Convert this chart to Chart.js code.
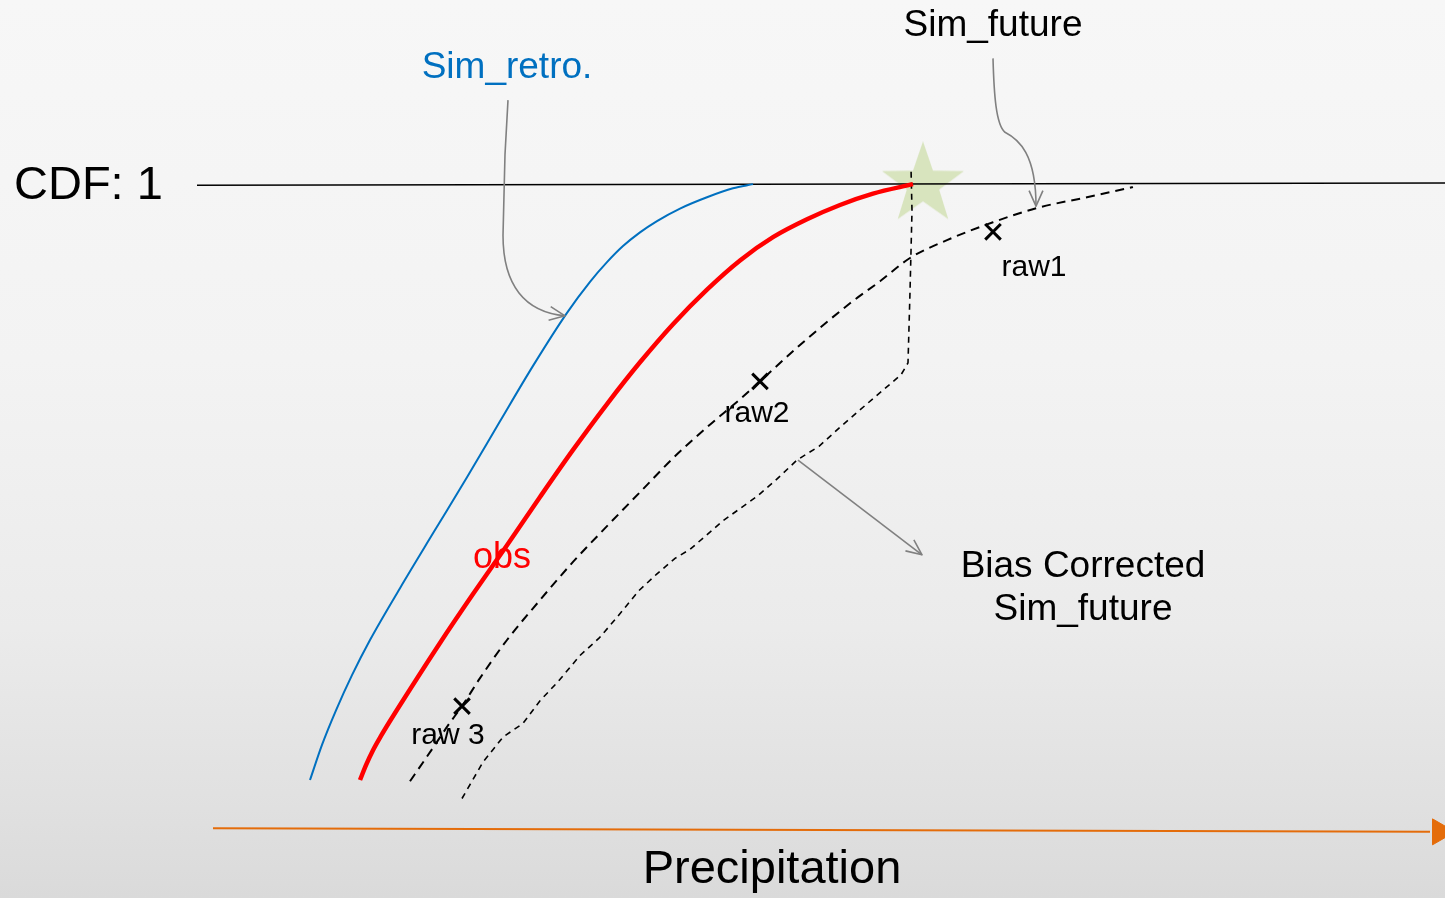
<!DOCTYPE html>
<html>
<head>
<meta charset="utf-8">
<script src="https://cdn.jsdelivr.net/npm/chart.js@4"></script>
<style>
  html, body { margin: 0; padding: 0; overflow: hidden; }
  body {
    width: 1445px; height: 898px;
    background: linear-gradient(to bottom, #f7f7f7 0%, #f3f3f3 40%, #ebebeb 70%, #e0e0e0 90%, #dadada 100%);
  }
  #wrap { position: absolute; left: 0; top: 0; width: 1445px; height: 898px; }
</style>
</head>
<body>
<div id="wrap"><canvas id="canvas" width="1445" height="898"></canvas></div>
<script>
// precipitation (x) and CDF (y)
var retroX = [9.7, 10.9, 12.3, 13.9, 15.7, 18.7, 22.0, 25.4, 28.7, 32.0, 35.4, 37.7, 39.4, 41.0, 42.7, 44.4, 46.7, 49.4, 52.0, 54.0];
var retroY = [0.000, 0.059, 0.117, 0.176, 0.235, 0.322, 0.414, 0.508, 0.602, 0.695, 0.784, 0.836, 0.869, 0.896, 0.919, 0.938, 0.959, 0.978, 0.993, 1.000];

var obsX = [14.7, 15.3, 16.0, 16.8, 17.7, 19.2, 22.7, 26.0, 29.4, 32.7, 36.0, 39.4, 42.7, 46.0, 49.4, 52.7, 56.0, 59.4, 62.7, 66.0, 70.0];
var obsY = [0.000, 0.025, 0.050, 0.074, 0.099, 0.139, 0.230, 0.312, 0.394, 0.475, 0.554, 0.631, 0.701, 0.765, 0.823, 0.872, 0.911, 0.941, 0.965, 0.984, 1.000];

var futureX = [19.7, 21.1, 22.4, 23.6, 24.9, 26.7, 29.4, 32.7, 36.0, 39.4, 42.7, 46.0, 49.4, 52.7, 54.7, 58.7, 63.7, 66.7, 69.7, 73.4, 78.0, 82.4, 87.4, 92.0];
var futureY = [-0.002, 0.032, 0.064, 0.094, 0.124, 0.171, 0.235, 0.302, 0.366, 0.426, 0.483, 0.540, 0.592, 0.639, 0.669, 0.730, 0.800, 0.837, 0.876, 0.906, 0.936, 0.960, 0.978, 0.995];

var correctedX = [24.9, 27.0, 29.0, 31.0, 32.7, 34.5, 36.7, 38.6, 40.4, 42.6, 44.4, 46.2, 47.7, 51.0, 54.4, 56.2, 58.4, 60.6, 62.7, 66.0, 68.8, 69.5, 69.7, 69.9, 69.8];
var correctedY = [-0.031, 0.030, 0.072, 0.095, 0.133, 0.165, 0.209, 0.238, 0.273, 0.318, 0.346, 0.372, 0.387, 0.435, 0.476, 0.502, 0.537, 0.560, 0.592, 0.640, 0.680, 0.700, 0.819, 0.955, 1.027];

var rawLabels = ['raw1', 'raw2', 'raw 3'];
var rawX = [78.0, 54.7, 24.9];
var rawY = [0.920, 0.669, 0.124];

var matchX = [71.0];
var matchY = [1.003];

var cdfLineX = [-1.6, 123.2];
var cdfLineY = [0.998, 1.002];

var axisX = [0.0, 121.7];
var axisY = [-0.081, -0.087];

function pts(xs, ys) {
    return xs.map(function (x, i) { return {x: x, y: ys[i]}; });
}

// filled star used as the point style of the matching point
var starImg = document.createElement('canvas');
starImg.width = 90;
starImg.height = 90;
(function () {
    var c = starImg.getContext('2d');
    c.beginPath();
    for (var i = 0; i < 10; i++) {
        var r = i % 2 === 0 ? 43 : 17;
        var a = -Math.PI / 2 + i * Math.PI / 5;
        var px = 45 + r * Math.cos(a), py = 47 + r * Math.sin(a);
        if (i === 0) c.moveTo(px, py); else c.lineTo(px, py);
    }
    c.closePath();
    c.fillStyle = 'rgba(210,224,180,0.85)';
    c.fill();
})();

var font = '"Liberation Sans", Arial, sans-serif';

// arrows and labels, placed in data units
var notes = [
    {text: 'Sim_retro.', x: 29.4, y: 1.195, size: 37, color: '#0070C0'},
    {text: 'Sim_future', x: 78.0, y: 1.265, size: 37, color: '#000'},
    {text: 'obs', x: 28.9, y: 0.372, size: 36, color: '#FF0000'},
    {text: 'Bias Corrected', x: 87.0, y: 0.357, size: 37, color: '#000'},
    {text: 'Sim_future', x: 87.0, y: 0.285, size: 37, color: '#000'},
    {text: 'Precipitation', x: 55.9, y: -0.151, size: 47, color: '#000'}
];
var rawOffset = [[4.1, -0.061], [-0.3, -0.054], [-1.4, -0.049]];

var annotate = {
    id: 'annotate',
    afterDatasetsDraw: function (chart) {
        var ctx = chart.ctx, sx = chart.scales.x, sy = chart.scales.y;
        var X = function (v) { return sx.getPixelForValue(v); };
        var Y = function (v) { return sy.getPixelForValue(v); };
        ctx.save();
        ctx.strokeStyle = '#808080';
        ctx.lineWidth = 1.6;
        ctx.lineJoin = 'round';

        function head(x0, y0, x1, y1) {
            var a = Math.atan2(y1 - y0, x1 - x0), l = 17, s = 0.42;
            ctx.beginPath();
            ctx.moveTo(x1 - l * Math.cos(a - s), y1 - l * Math.sin(a - s));
            ctx.lineTo(x1, y1);
            ctx.lineTo(x1 - l * Math.cos(a + s), y1 - l * Math.sin(a + s));
            ctx.stroke();
        }

        // Sim_retro pointer
        ctx.beginPath();
        ctx.moveTo(X(29.5), Y(1.141));
        ctx.lineTo(X(29.2), Y(1.05));
        ctx.lineTo(X(29.0), Y(0.914));
        ctx.bezierCurveTo(X(29.0), Y(0.83), X(31.2), Y(0.785), X(35.2), Y(0.779));
        ctx.stroke();
        head(X(32.5), Y(0.786), X(35.2), Y(0.779));

        // Sim_future pointer
        ctx.beginPath();
        ctx.moveTo(X(78.0), Y(1.211));
        ctx.bezierCurveTo(X(78.1), Y(1.15), X(78.3), Y(1.10), X(79.2), Y(1.087));
        ctx.bezierCurveTo(X(80.6), Y(1.075), X(82.3), Y(1.05), X(82.3), Y(0.963));
        ctx.stroke();
        head(X(82.3), Y(1.00), X(82.3), Y(0.963));

        // bias corrected pointer
        ctx.beginPath();
        ctx.moveTo(X(58.5), Y(0.537));
        ctx.lineTo(X(70.9), Y(0.378));
        ctx.stroke();
        head(X(58.5), Y(0.537), X(70.9), Y(0.378));

        ctx.textAlign = 'center';
        ctx.textBaseline = 'middle';
        notes.forEach(function (n) {
            ctx.font = n.size + 'px ' + font;
            ctx.fillStyle = n.color;
            ctx.fillText(n.text, X(n.x), Y(n.y));
        });
        ctx.font = '30px ' + font;
        ctx.fillStyle = '#000';
        rawLabels.forEach(function (t, i) {
            ctx.fillText(t, X(rawX[i] + rawOffset[i][0]), Y(rawY[i] + rawOffset[i][1]));
        });
        ctx.textAlign = 'left';
        ctx.font = '47px ' + font;
        ctx.fillText('CDF: 1', X(-19.9), Y(0.996));
        ctx.restore();
    }
};

var line = function (label, data, color, width, dash, order) {
    return {
        label: label, data: data, showLine: true, borderColor: color, borderWidth: width,
        borderDash: dash, pointRadius: 0, cubicInterpolationMode: 'monotone', fill: false, order: order
    };
};

var config = {type: 'scatter'};
config.data = {
    datasets: [
        {label: 'match', data: pts(matchX, matchY), pointStyle: starImg, pointRadius: 40, order: 10},
        line('CDF 1', pts(cdfLineX, cdfLineY), '#000', 1.6, [], 9),
        line('Precipitation', pts(axisX, axisY), '#E46C0A', 2, [], 8),
        {label: 'arrowhead', data: [{x: 122.7, y: -0.087}], pointStyle: 'triangle', rotation: 90,
            pointRadius: 15, backgroundColor: '#E46C0A', borderColor: '#E46C0A', borderWidth: 1, order: 8},
        line('Sim_retro', pts(retroX, retroY), '#0070C0', 2, [], 5),
        line('Bias corrected', pts(correctedX, correctedY), '#000', 1.6, [6, 5], 4),
        line('Sim_future', pts(futureX, futureY), '#000', 2, [9, 6], 3),
        line('obs', pts(obsX, obsY), '#FF0000', 4.5, [], 2),
        {label: 'raw', data: pts(rawX, rawY), pointStyle: 'crossRot', pointRadius: 11,
            borderColor: '#000', borderWidth: 3, order: 1}
    ]
};
// the corrected curve turns straight up at its end, so no monotone spline there
config.data.datasets[5].cubicInterpolationMode = 'default';
config.data.datasets[5].tension = 0;
config.options = {
    responsive: false,
    animation: false,
    devicePixelRatio: 1,
    layout: {padding: 0, autoPadding: false},
    plugins: {legend: {display: false}, tooltip: {enabled: false}},
    scales: {
        x: {type: 'linear', min: -21.3, max: 123.2, display: false},
        y: {type: 'linear', min: -0.198, max: 1.309, display: false}
    }
};
config.plugins = [annotate];

var cdfChart = new Chart(document.getElementById('canvas'), config);
</script>
</body>
</html>
